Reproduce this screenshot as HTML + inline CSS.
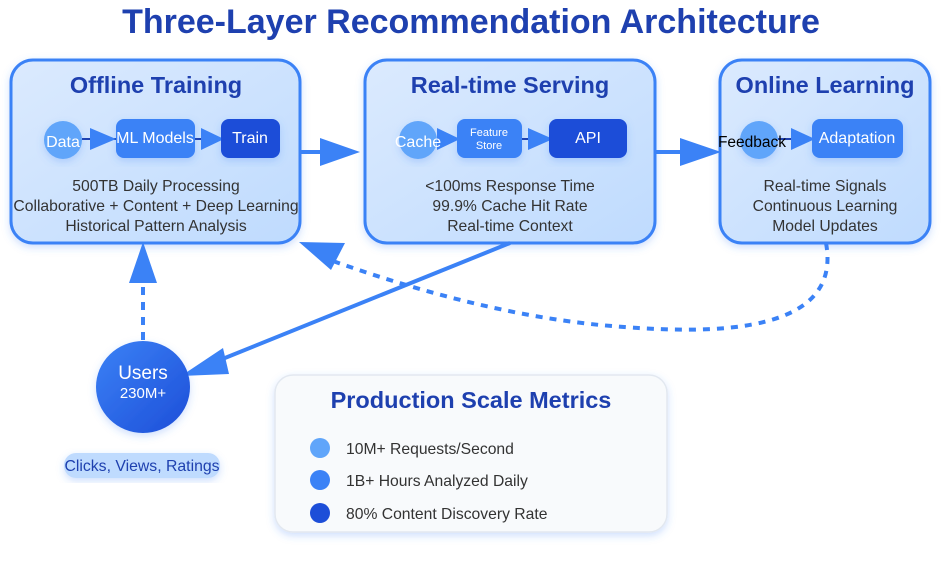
<!DOCTYPE html>
<html><head><meta charset="utf-8"><style>
body{margin:0;background:#fff}
svg text{font-family:"Liberation Sans",Arial,sans-serif}
</style></head><body>
<svg width="946" height="560" viewBox="0 0 946 560" xmlns="http://www.w3.org/2000/svg">
<defs>
<linearGradient id="bg" x1="0" y1="0" x2="1" y2="1"><stop offset="0" stop-color="#dbeafe"/><stop offset="1" stop-color="#bfdbfe"/></linearGradient>
<linearGradient id="ug" x1="0" y1="0" x2="1" y2="1"><stop offset="0" stop-color="#3b82f6"/><stop offset="1" stop-color="#1d4ed8"/></linearGradient>
<filter id="sh" x="-20%" y="-20%" width="140%" height="140%"><feDropShadow dx="0" dy="3" stdDeviation="4" flood-color="#3b82f6" flood-opacity="0.25"/></filter>
</defs>
<text x="471" y="33" text-anchor="middle" font-size="34" font-weight="bold" fill="#1e40af">Three-Layer Recommendation Architecture</text>

<g stroke="#3b82f6" stroke-width="3" fill="url(#bg)" filter="url(#sh)">
<rect x="11" y="60" width="289" height="183" rx="22"/>
<rect x="365" y="60" width="290" height="183" rx="22"/>
<rect x="720" y="60" width="210" height="183" rx="22"/>
</g>
<g font-size="23.5" font-weight="bold" fill="#1e40af" text-anchor="middle">
<text x="156" y="93">Offline Training</text>
<text x="510" y="93">Real-time Serving</text>
<text x="825" y="93">Online Learning</text>
</g>
<g stroke="#1e40af" stroke-width="2"><line x1="82" y1="139" x2="116" y2="139"/><line x1="195" y1="139" x2="221" y2="139"/><line x1="437" y1="139" x2="457" y2="139"/><line x1="522" y1="139" x2="549" y2="139"/><line x1="778" y1="139" x2="812" y2="139"/></g>
<g fill="#3b82f6"><polygon points="90,128 116,139 90,150"/><polygon points="201,128 224,139 201,150"/><polygon points="437,128 460,139 437,150"/><polygon points="528,128 553,139 528,150"/><polygon points="791,128 815,139 791,150"/></g>
<g filter="url(#sh)">
<circle cx="63" cy="140" r="19" fill="#60a5fa"/>
<rect x="116" y="119" width="79" height="39" rx="8" fill="#3b82f6"/>
<rect x="221" y="119" width="59" height="39" rx="8" fill="#1d4ed8"/>
<circle cx="418" cy="140" r="19" fill="#60a5fa"/>
<rect x="457" y="119" width="65" height="39" rx="8" fill="#3b82f6"/>
<rect x="549" y="119" width="78" height="39" rx="8" fill="#1d4ed8"/>
<circle cx="759" cy="140" r="19" fill="#60a5fa"/>
<rect x="812" y="119" width="91" height="39" rx="8" fill="#3b82f6"/>
</g>
<g fill="#fff" font-size="16" text-anchor="middle">
<text x="63" y="147">Data</text>
<text x="155" y="143">ML Models</text>
<text x="250" y="143">Train</text>
<text x="418" y="147">Cache</text>
<text x="489" y="136" font-size="11">Feature</text>
<text x="489" y="149" font-size="11">Store</text>
<text x="588" y="143">API</text>
<text x="857" y="143">Adaptation</text>
</g>
<text x="752" y="147" font-size="15.5" text-anchor="middle" fill="#000">Feedback</text>
<g font-size="15.7" fill="#333" text-anchor="middle">
<text x="156" y="191">500TB Daily Processing</text>
<text x="156" y="211">Collaborative + Content + Deep Learning</text>
<text x="156" y="231">Historical Pattern Analysis</text>
<text x="510" y="191">&lt;100ms Response Time</text>
<text x="510" y="211">99.9% Cache Hit Rate</text>
<text x="510" y="231">Real-time Context</text>
<text x="825" y="191">Real-time Signals</text>
<text x="825" y="211">Continuous Learning</text>
<text x="825" y="231">Model Updates</text>
</g>
<g stroke="#3b82f6" stroke-width="4" fill="none">
<line x1="300" y1="152" x2="325" y2="152"/>
<line x1="655" y1="152" x2="685" y2="152"/>
<line x1="510" y1="243" x2="215" y2="362"/>
<line x1="143" y1="340" x2="143" y2="285" stroke-dasharray="8,7"/>
<path d="M826,243 C845,345 680,332 600,325 C510,316 420,292 330,260" stroke-dasharray="7,7"/>
</g>
<g fill="#3b82f6">
<polygon points="320,138 360,152 320,166"/>
<polygon points="680,138 721,152 680,166"/>
<polygon points="129,283 157,283 143,242"/>
<polygon points="181,376 223,348 229,374"/>
<polygon points="299,242 345,243 331,270"/>
</g>
<ellipse cx="143" cy="387" rx="47" ry="46" fill="url(#ug)" filter="url(#sh)"/>
<text x="143" y="379" fill="#fff" font-size="19" text-anchor="middle">Users</text>
<text x="143" y="398" fill="#fff" font-size="15" text-anchor="middle">230M+</text>
<rect x="64" y="453" width="156" height="25" rx="12" fill="#bfdbfe" filter="url(#sh)"/>
<text x="142" y="471" font-size="15.8" fill="#1e40af" text-anchor="middle">Clicks, Views, Ratings</text>
<rect x="275" y="375" width="392" height="157" rx="18" fill="#f8fafc" stroke="#e2e8f0" stroke-width="1.5" filter="url(#sh)"/>
<text x="471" y="408" font-size="23.5" font-weight="bold" fill="#1e40af" text-anchor="middle">Production Scale Metrics</text>
<circle cx="320" cy="448" r="10" fill="#60a5fa"/>
<circle cx="320" cy="480" r="10" fill="#3b82f6"/>
<circle cx="320" cy="513" r="10" fill="#1d4ed8"/>
<g font-size="15.7" fill="#333">
<text x="346" y="454">10M+ Requests/Second</text>
<text x="346" y="486">1B+ Hours Analyzed Daily</text>
<text x="346" y="519">80% Content Discovery Rate</text>
</g>
</svg>
</body></html>
